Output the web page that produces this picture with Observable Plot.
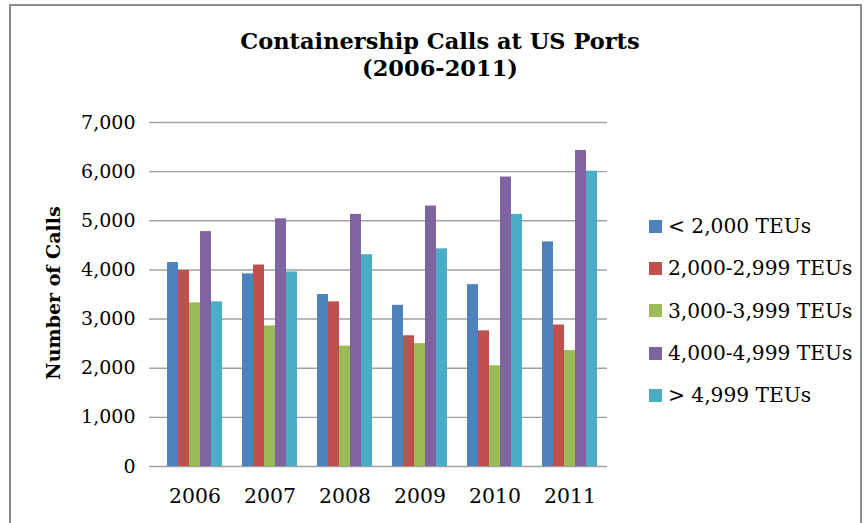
<!DOCTYPE html>
<html><head><meta charset="utf-8">
<script src="https://cdn.jsdelivr.net/npm/d3@7"></script>
<script src="https://cdn.jsdelivr.net/npm/@observablehq/plot@0.6"></script>
<style>
body{margin:0;background:#fff;}
#wrap{position:relative;width:867px;height:523px;overflow:hidden;font-family:"DejaVu Serif",serif;color:#000;}
#box{position:absolute;left:9px;top:4px;width:853px;height:560px;border:2px solid #8c8c8c;box-sizing:border-box;}
#chart{position:absolute;left:0;top:0;}
#title{position:absolute;left:190px;width:500px;top:28px;text-align:center;font-weight:bold;font-size:22.5px;line-height:27px;}
#ylabel{position:absolute;left:53px;top:293px;transform:translate(-50%,-50%) rotate(-90deg);font-weight:bold;font-size:19px;white-space:nowrap;}
#legend{position:absolute;left:649px;top:205px;}
.item{display:flex;align-items:center;height:42.3px;font-size:20.2px;white-space:nowrap;}
.sw{width:13px;height:13px;margin-right:6px;flex:none;}
</style></head>
<body><div id="wrap"><div id="box"></div><div id="chart"></div>
<div id="title">Containership Calls at US Ports<br>(2006-2011)</div>
<div id="ylabel">Number of Calls</div>
<div id="legend"></div></div>
<script>
const years = ["2006", "2007", "2008", "2009", "2010", "2011"];
const series = ["< 2,000 TEUs", "2,000-2,999 TEUs", "3,000-3,999 TEUs", "4,000-4,999 TEUs", "> 4,999 TEUs"];
const colors = ["#4F81BD", "#C0504D", "#9BBB59", "#8064A2", "#4BACC6"];
const under2000 = [4150, 3920, 3500, 3280, 3700, 4570];
const from2000to2999 = [3990, 4100, 3350, 2660, 2760, 2880];
const from3000to3999 = [3330, 2860, 2450, 2500, 2050, 2360];
const from4000to4999 = [4780, 5040, 5130, 5300, 5890, 6430];
const over4999 = [3350, 3960, 4310, 4430, 5130, 6010];
const yTicks = [0, 1000, 2000, 3000, 4000, 5000, 6000, 7000];

const seriesValues = [under2000, from2000to2999, from3000to3999, from4000to4999, over4999];
const data = [];
years.forEach((yr, i) => series.forEach((s, j) => data.push({year: yr, series: s, value: seriesValues[j][i]})));

const chart = Plot.plot({
  width: 867, height: 523,
  marginLeft: 155, marginRight: 259, marginTop: 122, marginBottom: 57,
  style: {fontFamily: "DejaVu Serif", fontSize: "19px", color: "#000", background: "transparent"},
  fx: {domain: years, padding: 0, label: null},
  x: {domain: series, paddingInner: 0, paddingOuter: 0.81, axis: null},
  y: {domain: [0, 7000], label: null},
  color: {domain: series, range: colors},
  marks: [
    Plot.gridY(yTicks, {stroke: "#a0a0a0", strokeOpacity: 1, strokeWidth: 1.4}),
    Plot.barY(data, {fx: "year", x: "series", y: "value", fill: "series", inset: 0}),
    Plot.axisY({ticks: yTicks, tickFormat: d3.format(","), tickSize: 8, tickPadding: 14, line: true, stroke: "#a0a0a0", strokeWidth: 1.4, label: null, fontSize: 19}),
    Plot.axisFx({anchor: "bottom", tickSize: 0, tickPadding: 22, label: null, fontSize: 20.4})
  ]
});
document.getElementById("chart").appendChild(chart);

const legend = document.getElementById("legend");
series.forEach((s, i) => {
  const it = document.createElement("div");
  it.className = "item";
  const sw = document.createElement("span");
  sw.className = "sw";
  sw.style.background = colors[i];
  it.appendChild(sw);
  it.appendChild(document.createTextNode(s));
  legend.appendChild(it);
});
</script></body></html>
